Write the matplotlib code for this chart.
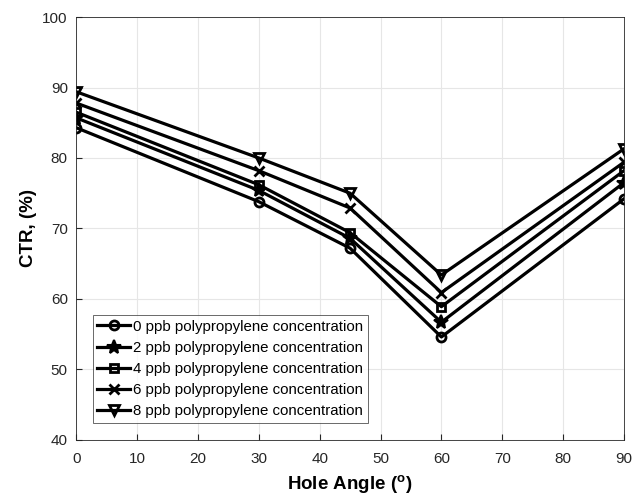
import matplotlib
matplotlib.use('Agg')
import matplotlib.pyplot as plt
import numpy as np

angulo = [0, 30, 45, 60, 90]
ctr_0 = [84.3, 73.8, 67.2, 54.6, 74.2]
ctr_2 = [85.7, 75.4, 68.6, 56.7, 76.5]
ctr_4 = [86.5, 76.2, 69.4, 58.9, 78.2]
ctr_6 = [87.8, 78.2, 72.9, 60.9, 79.4]
ctr_8 = [89.4, 80.0, 75.0, 63.4, 81.3]
etiquetas = ['0 ppb polypropylene concentration',
             '2 ppb polypropylene concentration',
             '4 ppb polypropylene concentration',
             '6 ppb polypropylene concentration',
             '8 ppb polypropylene concentration']

plt.rcParams['font.family'] = ['Liberation Sans', 'DejaVu Sans']
plt.rcParams['mathtext.fontset'] = 'custom'
plt.rcParams['mathtext.rm'] = 'Liberation Sans:bold'

fig = plt.figure(figsize=(6.4, 5.01), dpi=100)
ax = fig.add_axes([0.119, 0.122, 0.856, 0.844])

ax.plot(angulo, ctr_0, 'k-', marker='o', mfc='none', ms=6.5, mew=2, lw=2.3, label=etiquetas[0])
ax.plot(angulo, ctr_2, 'k-', marker='*', ms=10.5, mew=1.5, lw=2.3, label=etiquetas[1])
ax.plot(angulo, ctr_4, 'k-', marker='s', mfc='none', ms=6, mew=2, lw=2.3, label=etiquetas[2])
ax.plot(angulo, ctr_6, 'k-', marker='x', ms=6.5, mew=2, lw=2.3, label=etiquetas[3])
ax.plot(angulo, ctr_8, 'k-', marker='v', mfc='none', ms=7.5, mew=2, lw=2.3, label=etiquetas[4])

ax.set_xlim(0, 90)
ax.set_ylim(40, 100)
ax.set_xticks(np.arange(0, 91, 10))
ax.set_yticks(np.arange(40, 101, 10))
ax.grid(True, color='#e6e6e6', lw=0.8)
ax.set_axisbelow(True)
ax.tick_params(direction='in', labelsize=11, colors='#262626', length=4, pad=6)
ax.tick_params(axis='x', pad=9)
for s in ax.spines.values():
    s.set_color('#262626')
    s.set_linewidth(0.6)

ax.set_xlabel('Hole Angle ($\\mathregular{^o}$)', fontsize=13.5, fontweight='bold', labelpad=5)
ax.set_ylabel('CTR, (%)', fontsize=13.5, fontweight='bold', labelpad=4)

leg = ax.legend(loc='lower left', bbox_to_anchor=(0.03, 0.04), fontsize=10.8,
                frameon=True, fancybox=False, edgecolor='#262626',
                handlelength=2.2, handletextpad=0.2, borderpad=0.3,
                labelspacing=0.48, borderaxespad=0)
leg.get_frame().set_linewidth(0.6)

fig.savefig('out.png', dpi=100)
